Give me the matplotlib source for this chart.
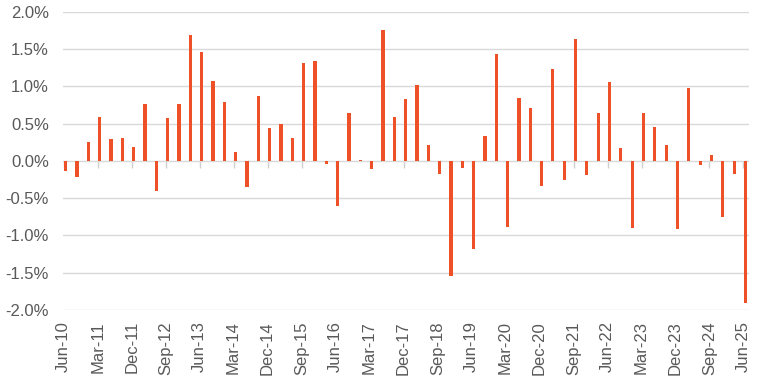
import matplotlib
matplotlib.use("Agg")
import matplotlib.pyplot as plt
from matplotlib.ticker import FuncFormatter, MultipleLocator

months = ["Mar", "Jun", "Sep", "Dec"]
quarters = []
for y in range(10, 26):
    for m in months:
        quarters.append(f"{m}-{y:02d}")
quarters = quarters[1:62]  # Jun-10 .. Jun-25

values = [
    -0.14, -0.21, 0.26, 0.59, 0.30, 0.31, 0.19, 0.77, -0.40, 0.58,
    0.76, 1.69, 1.46, 1.08, 0.79, 0.12, -0.35, 0.87, 0.44, 0.49,
    0.31, 1.32, 1.34, -0.04, -0.60, 0.64, 0.02, -0.11, 1.76, 0.59,
    0.83, 1.02, 0.21, -0.17, -1.55, -0.09, -1.18, 0.34, 1.43, -0.89,
    0.84, 0.71, -0.33, 1.23, -0.26, 1.64, -0.19, 0.65, 1.06, 0.18,
    -0.90, 0.64, 0.46, 0.21, -0.91, 0.98, -0.05, 0.08, -0.75, -0.17,
    -1.91,
]

tick_every = 3
tick_labels = quarters[::tick_every]

plt.rcParams['font.family'] = ['Liberation Sans', 'DejaVu Sans']

fig = plt.figure(figsize=(7.69, 3.83), dpi=100)
ax = fig.add_axes([0.0819, 0.1906, 0.9736 - 0.0819, 0.9687 - 0.1906])

x = list(range(len(values)))
ax.bar(x, values, width=0.28, color='#EE5128', zorder=3)

ax.set_ylim(-2.0, 2.0)
ax.set_xlim(-0.24, 60.28)
ax.yaxis.set_major_locator(MultipleLocator(0.5))
ax.yaxis.set_major_formatter(FuncFormatter(lambda v, p: f"{v:.1f}%"))
ax.grid(axis='y', color='#D9D9D9', linewidth=1.0, zorder=0)

tick_pos = [i - 0.18 for i in x[::tick_every]]
ax.set_xticks(tick_pos)
ax.set_xticklabels(tick_labels, rotation=90)
ax.tick_params(axis='x', length=0, pad=8, labelsize=12, labelcolor='#595959')
ax.tick_params(axis='y', length=0, pad=10, labelsize=12, labelcolor='#595959')

for s in ax.spines.values():
    s.set_visible(False)

# tick marks on the zero line, pointing downward
sec = ax.secondary_xaxis(0.5)
sec.set_xticks(tick_pos)
sec.set_xticklabels([])
sec.tick_params(axis='x', length=5, width=1, color='#D0D0D0', direction='in')
sec.spines['bottom'].set_visible(False)
sec.spines['top'].set_visible(False)

fig.savefig("out.png", dpi=100)
